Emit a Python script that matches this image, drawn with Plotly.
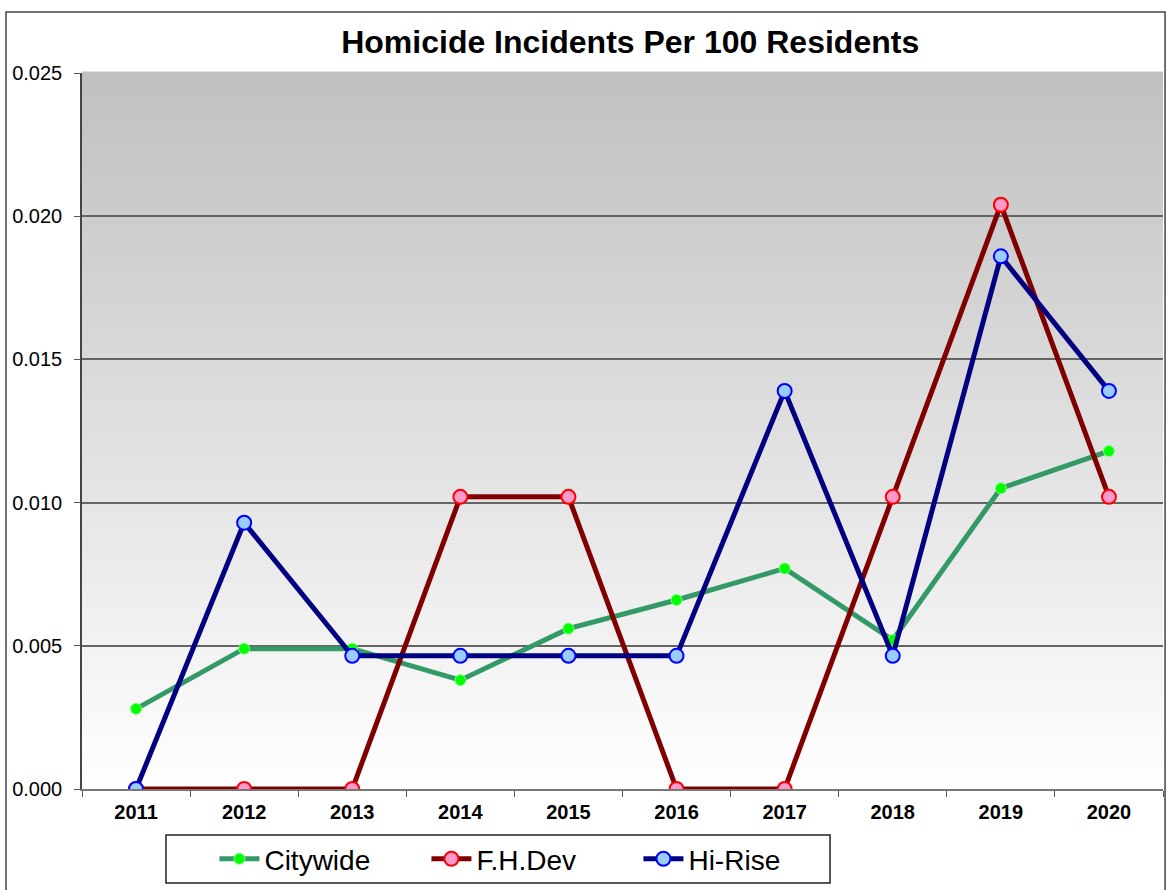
import plotly.graph_objects as go

years = ['2011', '2012', '2013', '2014', '2015', '2016', '2017', '2018', '2019', '2020']
citywide = [0.0028, 0.0049, 0.0049, 0.0038, 0.0056, 0.0066, 0.0077, 0.0052, 0.0105, 0.0118]
fh_dev = [0.0, 0.0, 0.0, 0.0102, 0.0102, 0.0, 0.0, 0.0102, 0.0204, 0.0102]
hi_rise = [0.0, 0.0093, 0.00465, 0.00465, 0.00465, 0.00465, 0.0139, 0.00465, 0.0186, 0.0139]

fig = go.Figure()

fig.add_trace(go.Scatter(
    x=years, y=citywide, name='Citywide', mode='lines+markers',
    line=dict(color='#339966', width=5),
    marker=dict(color='#00ff00', size=11, line=dict(color='#80ff80', width=1))
))
fig.add_trace(go.Scatter(
    x=years, y=fh_dev, name='F.H.Dev', mode='lines+markers',
    line=dict(color='#800000', width=5),
    marker=dict(color='#ff99cc', size=14, line=dict(color='#ff0000', width=2))
))
fig.add_trace(go.Scatter(
    x=years, y=hi_rise, name='Hi-Rise', mode='lines+markers',
    line=dict(color='#000080', width=5),
    marker=dict(color='#99ccff', size=14, line=dict(color='#0000ff', width=2))
))

# gray-to-white vertical gradient behind the plot
shapes = []
n = 80
for i in range(n):
    t = i / n
    g = int(round(255 - 63 * (t + 0.5 / n)))
    shapes.append(dict(
        type='rect', xref='x domain', yref='y domain',
        x0=0, x1=1, y0=t, y1=t + 1.0 / n + 0.002,
        fillcolor=f'rgb({g},{g},{g})', line=dict(width=0), layer='below'
    ))

# outer chart border
shapes.append(dict(
    type='rect', xref='paper', yref='paper',
    x0=-0.0703, x1=1.0019, y0=-0.2, y1=1.0852,
    line=dict(color='#444444', width=1.5), fillcolor='rgba(0,0,0,0)', layer='below'
))
# legend box
shapes.append(dict(
    type='rect', xref='paper', yref='paper',
    x0=0.0777, x1=0.692, y0=-0.1313, y1=-0.0642,
    line=dict(color='#222222', width=1.5), fillcolor='white', layer='below'
))

fig.update_layout(
    width=1167, height=890,
    margin=dict(l=82, r=4, t=73, b=101),
    paper_bgcolor='white',
    plot_bgcolor='white',
    font=dict(family='Liberation Sans, Arial, sans-serif', color='black'),
    title=dict(text='<b>Homicide Incidents Per 100 Residents</b>', x=0.54, xanchor='center',
               y=0.953, yanchor='middle', font=dict(size=32, color='black')),
    shapes=shapes,
    showlegend=True,
    legend=dict(
        orientation='h', x=0.1225, y=-0.0978, xanchor='left', yanchor='middle',
        borderwidth=0, bgcolor='rgba(0,0,0,0)',
        font=dict(size=28), itemwidth=40, entrywidth=157, traceorder='normal'
    ),
    xaxis=dict(
        type='category', tickson='boundaries', ticks='outside', ticklen=6,
        tickcolor='#555555', showline=True, linecolor='#777777', linewidth=2,
        showgrid=False, tickfont=dict(size=20, family='Liberation Sans, Arial', weight='bold'),
        ticklabelstandoff=4, range=[-0.5, 9.5]
    ),
    yaxis=dict(
        range=[0, 0.025], dtick=0.005, tickformat='.3f', ticks='outside', ticklen=6,
        tickcolor='#555555', showline=True, linecolor='#444444', linewidth=1.5,
        showgrid=True, gridcolor='#646464', gridwidth=1.5, zeroline=False,
        tickfont=dict(size=20), ticklabelstandoff=8, layer='above traces'
    ),
)

fig.write_html('out.html', config={'displayModeBar': False},
               post_script="document.body.style.margin='0';")
